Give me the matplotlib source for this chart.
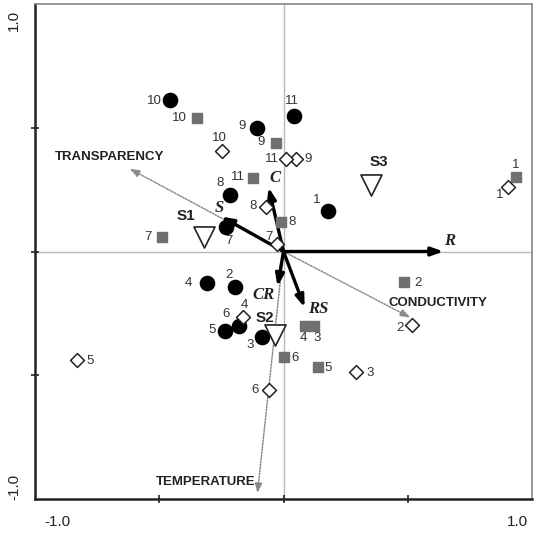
import matplotlib
matplotlib.use("Agg")
import matplotlib.pyplot as plt

plt.rcParams['font.family'] = ['Liberation Sans', 'DejaVu Sans']

# ---- data ----
site_ids = ['1', '2', '3', '4', '5', '6', '7', '8', '9', '10', '11']
circle_x = [0.181, -0.197, -0.085, -0.306, -0.237, -0.181, -0.233, -0.217, -0.105, -0.455, 0.044]
circle_y = [0.162, -0.145, -0.347, -0.129, -0.323, -0.299, 0.101, 0.230, 0.501, 0.614, 0.549]
square_x = [0.934, 0.483, 0.121, 0.085, 0.137, 0.0, -0.487, -0.012, -0.032, -0.350, -0.121]
square_y = [0.303, -0.125, -0.299, -0.299, -0.465, -0.428, 0.057, 0.121, 0.440, 0.541, 0.295]
diamond_x = [0.905, 0.519, 0.290, -0.161, -0.829, -0.060, -0.028, -0.072, 0.052, -0.249, 0.012]
diamond_y = [0.259, -0.295, -0.485, -0.263, -0.440, -0.558, 0.032, 0.178, 0.372, 0.408, 0.372]

season_names = ['S1', 'S2', 'S3']
season_x = [-0.318, -0.036, 0.354]
season_y = [0.057, -0.339, 0.267]

strategy_names = ['R', 'S', 'C', 'CR', 'RS']
strategy_x = [0.644, -0.250, -0.060, -0.024, 0.085]
strategy_y = [0.0, 0.141, 0.259, -0.141, -0.226]

env_names = ['TRANSPARENCY', 'CONDUCTIVITY', 'TEMPERATURE']
env_x = [-0.620, 0.511, -0.105]
env_y = [0.335, -0.267, -0.978]

# ---- label offsets (pixels: dx, dy with dy up) ----
circle_off = {'1': (-12, 11), '2': (-6, 12), '3': (-12, -8), '4': (-19, 0), '5': (-13, 1),
              '6': (-12, 12), '7': (3, -14), '8': (-10, 12), '9': (-15, 2), '10': (-16, -1),
              '11': (-2, 15)}
square_off = {'1': (0, 12), '2': (14, -1), '3': (4, -12), '4': (-1, -12), '5': (11, -1),
              '6': (12, -1), '7': (-14, 0), '8': (12, 0), '9': (-14, 1), '10': (-17, 0),
              '11': (-15, 1)}
diamond_off = {'1': (-9, -8), '2': (-12, -3), '3': (15, -1), '4': (1, 12), '5': (13, -1),
               '6': (-14, 0), '7': (-8, 7), '8': (-13, 1), '9': (12, 0), '10': (-2, 13),
               '11': (-15, 0)}
season_lab = {'S1': (-0.394, 0.145), 'S2': (-0.076, -0.27), 'S3': (0.386, 0.36)}
strategy_lab = {'R': (0.668, 0.044), 'S': (-0.26, 0.174), 'C': (-0.035, 0.295),
                'CR': (-0.08, -0.174), 'RS': (0.14, -0.234)}
env_lab = {'TRANSPARENCY': (-0.70, 0.380), 'CONDUCTIVITY': (0.62, -0.210),
           'TEMPERATURE': (-0.314, -0.933)}

W, H = 537, 534
fig = plt.figure(figsize=(W / 100, H / 100), dpi=100)
ax = fig.add_axes([35 / W, 35 / H, (532 - 35) / W, (499 - 4) / H])
ax.set_xlim(-1, 1)
ax.set_ylim(-1, 1)

ax.axhline(0, color='#b8b8b8', lw=1, zorder=1)
ax.axvline(0, color='#b8b8b8', lw=1, zorder=1)

for s in ['top', 'right']:
    ax.spines[s].set_color('#888888')
    ax.spines[s].set_linewidth(1.2)
for s in ['left', 'bottom']:
    ax.spines[s].set_color('#222222')
    ax.spines[s].set_linewidth(1.8)

ax.set_xticks([-0.5, 0, 0.5])
ax.set_yticks([-0.5, 0, 0.5])
ax.set_xticklabels([])
ax.set_yticklabels([])
ax.tick_params(direction='inout', length=6, width=1.2, color='#222222')

tf = dict(fontsize=11, color='#222222')
ax.text(57 / W, 12 / H, '-1.0', transform=fig.transFigure, ha='center', va='center', **tf)
ax.text(517 / W, 12 / H, '1.0', transform=fig.transFigure, ha='center', va='center', **tf)
ax.text(14 / W, (H - 20) / H, '1.0', transform=fig.transFigure, ha='center', va='center', rotation=90, **tf)
ax.text(14 / W, (H - 487) / H, '-1.0', transform=fig.transFigure, ha='center', va='center', rotation=90, **tf)

# environmental arrows (gray dotted)
for n, x, y in zip(env_names, env_x, env_y):
    ax.annotate('', xy=(x, y), xytext=(0, 0),
                arrowprops=dict(arrowstyle='-|>,head_length=0.6,head_width=0.22',
                                color='#8a8a8a', lw=1.1, linestyle=(0, (1, 1)),
                                shrinkA=0, shrinkB=0), zorder=2)
    lx, ly = env_lab[n]
    ax.text(lx, ly, n, ha='center', va='center', fontsize=9.5, fontweight='bold',
            color='#222222', zorder=6)

# strategy arrows (black)
for n, x, y in zip(strategy_names, strategy_x, strategy_y):
    ax.annotate('', xy=(x, y), xytext=(0, 0),
                arrowprops=dict(arrowstyle='-|>,head_length=0.7,head_width=0.25',
                                color='black', lw=2.4, shrinkA=0, shrinkB=0), zorder=3)
    lx, ly = strategy_lab[n]
    ax.text(lx, ly, n, ha='center', va='center', fontsize=12, fontweight='bold',
            style='italic', family=['Liberation Serif', 'DejaVu Serif'], color='#222222', zorder=6)

px2pt = 0.72
lab_kw = dict(fontsize=9.5, color='#333333', ha='center', va='center', zorder=6)

ax.scatter(circle_x, circle_y, s=105, c='black', marker='o', zorder=5)
for i, x, y in zip(site_ids, circle_x, circle_y):
    dx, dy = circle_off[i]
    ax.annotate(i, (x, y), xytext=(dx * px2pt, dy * px2pt), textcoords='offset points', **lab_kw)

ax.scatter(square_x, square_y, s=55, c='#707070', marker='s', zorder=5)
for i, x, y in zip(site_ids, square_x, square_y):
    dx, dy = square_off[i]
    ax.annotate(i, (x, y), xytext=(dx * px2pt, dy * px2pt), textcoords='offset points', **lab_kw)

ax.scatter(diamond_x, diamond_y, s=50, facecolors='white', edgecolors='#222222',
           linewidths=1.1, marker='D', zorder=5)
for i, x, y in zip(site_ids, diamond_x, diamond_y):
    dx, dy = diamond_off[i]
    ax.annotate(i, (x, y), xytext=(dx * px2pt, dy * px2pt), textcoords='offset points', **lab_kw)

ax.scatter(season_x, season_y, s=230, facecolors='white', edgecolors='#222222',
           linewidths=1.2, marker='v', zorder=5)
for n in season_names:
    lx, ly = season_lab[n]
    ax.text(lx, ly, n, ha='center', va='center', fontsize=11, fontweight='bold',
            color='#222222', zorder=6)

fig.savefig('out.png', dpi=100)
